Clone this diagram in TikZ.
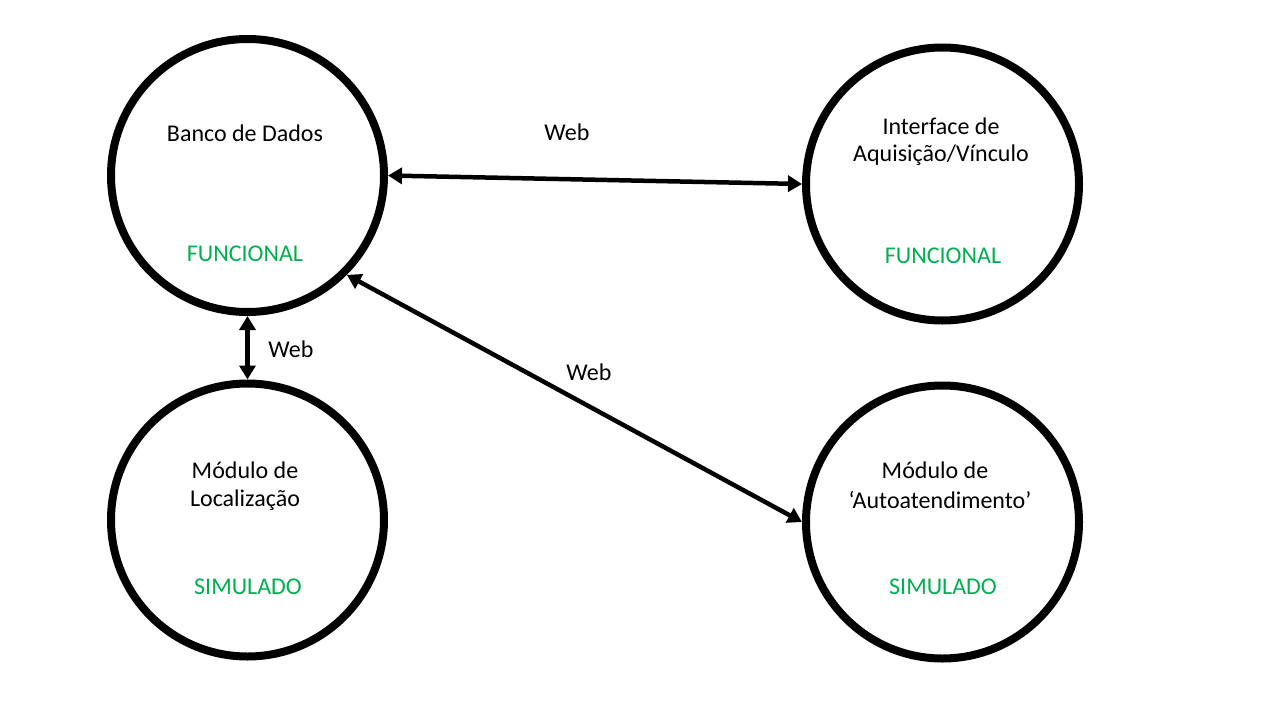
\documentclass[tikz,border=0pt]{standalone}
\usepackage{fontspec}
\setmainfont{Carlito}
\usetikzlibrary{arrows.meta}
\definecolor{okgreen}{HTML}{00B050}
\tikzset{
  module/.style={circle, draw=black, line width=8pt, minimum size=273pt, inner sep=0pt},
  lbl/.style={font=\fontsize{24pt}{29pt}\selectfont, text=black, inner sep=0pt, align=center},
  status/.style={font=\fontsize{24pt}{29pt}\selectfont, text=okgreen, inner sep=0pt},
  link/.style={line width=4.5pt, {Triangle[length=14pt,width=16pt]}-{Triangle[length=14pt,width=16pt]}}
}
\begin{document}
\begin{tikzpicture}[x=1pt,y=-1pt]
\useasboundingbox (0,0) rectangle (1280,720);
\fill[white] (0,0) rectangle (1280,720);
\node[module] (banco) at (247.5,175.5) {};
\node[module] (iface) at (942.5,184) {};
\node[module] (loc) at (247.5,520) {};
\node[module] (auto) at (942.5,522) {};

\node[lbl] (tbanco) at (245,133) {Banco de Dados};
\node[status] (sbanco) at (245,254) {FUNCIONAL};
\node[lbl] (tiface1) at (941,126) {Interface de};
\node[lbl] (tiface2) at (941,155) {Aquisição/Vínculo};
\node[status] (siface) at (943,256) {FUNCIONAL};
\node[lbl] (tloc1) at (245,470) {Módulo de};
\node[lbl] (tloc2) at (245,500) {Localização};
\node[status] (sloc) at (248,587) {SIMULADO};
\node[lbl] (tauto1) at (935,470) {Módulo de};
\node[lbl] (tauto2) at (940,500) {‘Autoatendimento’};
\node[status] (sauto) at (943,587) {SIMULADO};

\draw[link] (banco.east) -- (iface.west);
\draw[link] (banco.south) -- (loc.north);
\draw[link] (banco.-45) -- (auto.west);

\node[lbl] (w1) at (567,132) {Web};
\node[lbl] (w2) at (291,349) {Web};
\node[lbl] (w3) at (589,372) {Web};
\end{tikzpicture}
\end{document}
